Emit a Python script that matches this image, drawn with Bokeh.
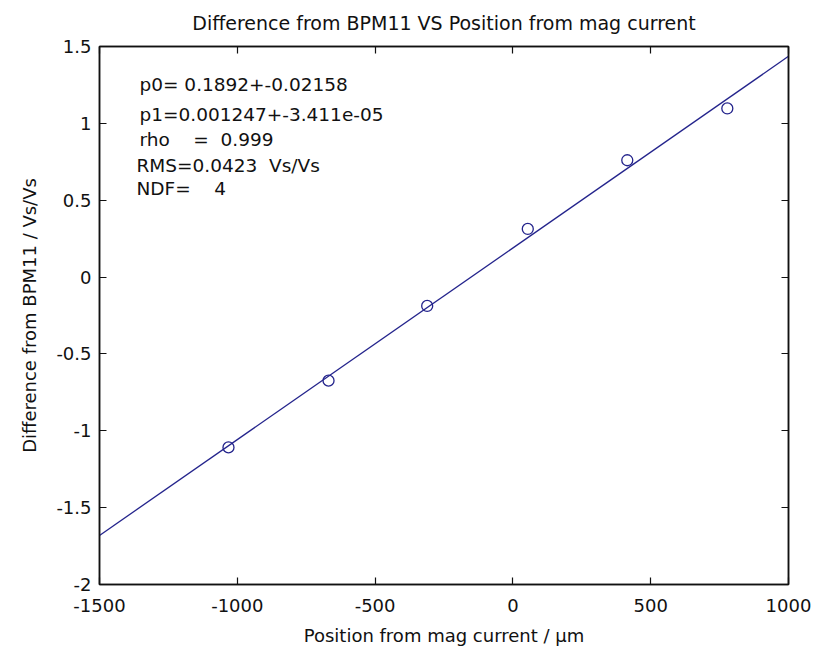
from bokeh.plotting import figure
from bokeh.models import LinearAxis, Range1d, FixedTicker, ColumnDataSource
from bokeh.embed import file_html
from bokeh.resources import INLINE
from bokeh.core.properties import value
import bokeh.models as bm

# ---- data ----
x_pos = [-1032, -669, -311, 54, 415, 778]
y_diff = [-1.108, -0.674, -0.188, 0.313, 0.760, 1.097]
fit_x = [-1500, 1000]
fit_y = [-1.681, 1.436]
x_ticks = [-1500, -1000, -500, 0, 500, 1000]
x_tick_labels = ["-1500", "-1000", "-500", "0", "500", "1000"]
y_ticks = [-2, -1.5, -1, -0.5, 0, 0.5, 1, 1.5]
y_tick_labels = ["-2", "-1.5", "-1", "-0.5", "0", "0.5", "1", "1.5"]
title_text = "Difference from BPM11 VS Position from mag current"
NB = "\u00a0"
fit_text = [
    "p0= 0.1892+-0.02158",
    "p1=0.001247+-3.411e-05",
    "rho" + NB * 3 + " = " + NB + "0.999",
    "RMS=0.0423 " + NB + "Vs/Vs",
    "NDF=" + NB * 3 + " 4",
]

FONT = "DejaVu Sans"
INK = "#111111"
BLUE = "#24248c"

p = figure(width=811, height=649,
           x_range=Range1d(-1500, 1000), y_range=Range1d(-2, 1.5),
           output_backend="svg", toolbar_location=None,
           x_axis_type=None, y_axis_type=None,
           min_border_left=99, min_border_right=23,
           min_border_top=44, min_border_bottom=65)
p.background_fill_color = "white"
p.border_fill_color = "white"
p.outline_line_color = INK
p.outline_line_width = 1.5
p.xgrid.visible = False
p.ygrid.visible = False

p.title.text = title_text
p.title.align = "center"
p.title.text_font = FONT
p.title.text_font_size = "19px"
p.title.text_font_style = "normal"
p.title.text_color = INK
p.title.text_line_height = 0.8
p.title.standoff = 18

PolicyCls = getattr(bm, "CustomJSLabelingPolicy", None) or getattr(bm, "CustomLabelingPolicy")


def style_axis(ax, ticks, labels, show_labels=True):
    ax.ticker = FixedTicker(ticks=ticks)
    ax.major_label_overrides = {t: l for t, l in zip(ticks, labels)}
    ax.major_tick_in = 7
    ax.major_tick_out = 0
    ax.minor_tick_in = 0
    ax.minor_tick_out = 0
    ax.axis_line_color = INK
    ax.axis_line_width = 1.5
    ax.major_tick_line_color = INK
    ax.major_tick_line_width = 1.2
    ax.major_label_text_font = FONT
    ax.major_label_text_color = INK
    if show_labels:
        ax.major_label_text_font_size = "18px"
    else:
        ax.major_label_text_font_size = "1px"
        ax.major_label_standoff = 0
        ax.major_label_policy = PolicyCls(code="return new Set()")


xb = LinearAxis(axis_label="Position from mag current / \u03bcm")
style_axis(xb, x_ticks, x_tick_labels)
xb.major_label_standoff = 14
xb.axis_label_standoff = 10
p.add_layout(xb, "below")

yl = LinearAxis(axis_label="Difference from BPM11 / Vs/Vs")
style_axis(yl, y_ticks, y_tick_labels)
yl.major_label_standoff = 8
yl.axis_label_standoff = 13
p.add_layout(yl, "left")

xt = LinearAxis()
style_axis(xt, x_ticks, x_tick_labels, show_labels=False)
p.add_layout(xt, "above")

yr = LinearAxis()
style_axis(yr, y_ticks, y_tick_labels, show_labels=False)
p.add_layout(yr, "right")

for ax in (xb, yl):
    ax.axis_label_text_font = FONT
    ax.axis_label_text_font_size = "18px"
    ax.axis_label_text_font_style = "normal"
    ax.axis_label_text_color = INK

# fit line and data
p.line(fit_x, fit_y, line_color=BLUE, line_width=1.3)
p.scatter(x_pos, y_diff, marker="circle", size=11, fill_color=None,
          line_color=BLUE, line_width=1.3)

# fit results text
ann = ColumnDataSource(dict(
    x=[-1355, -1355, -1355, -1366, -1366],
    y=[1.254, 1.060, 0.898, 0.729, 0.574],
    text=fit_text,
))
p.text(x="x", y="y", text="text", source=ann,
       text_font=value(FONT), text_font_size="18.5px",
       text_align="left", text_baseline="middle", text_color=INK)

open("out.html", "w").write(file_html(p, INLINE))
